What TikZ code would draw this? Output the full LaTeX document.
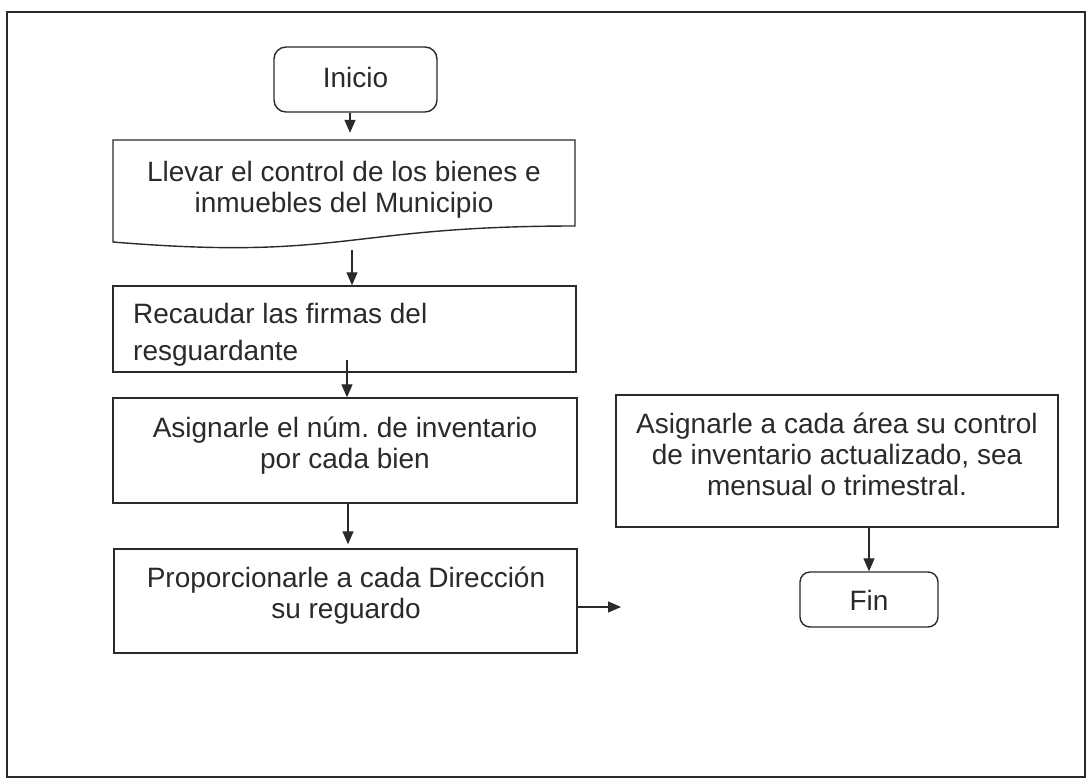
\documentclass[tikz,border=0pt]{standalone}
\usepackage{fontspec}
\setmainfont{Liberation Sans}
\usetikzlibrary{arrows.meta}
\definecolor{ink}{HTML}{2A2A2A}
\newcommand{\topstrutx}{\rule{0pt}{27pt}}
\frenchspacing
\begin{document}
\begin{tikzpicture}[x=1pt,y=-1pt,
  stepbox/.style={draw=ink, line width=1.4pt, inner sep=0pt},
  ghost/.style={draw=none, inner sep=0pt},
  txt/.style={inner sep=0pt, text=ink, font=\fontsize{28pt}{31pt}\selectfont},
  arr/.style={draw=ink, line width=1.3pt, -{Triangle[length=13pt,width=11pt]}},
  frame/.style={draw=ink, line width=1.5pt}]
\useasboundingbox (0,0) rectangle (1087,780);
\fill[white] (0,0) rectangle (1087,780);
\draw[frame] (7,12) rectangle (1085,777);

% Inicio
\node[stepbox, rounded corners=12pt, minimum width=163pt, minimum height=65pt] (ini) at (355.5,79.5) {};
\node[txt, anchor=north] (tini) at (355.5,60) {\topstrutx Inicio};

% Llevar (document shape)
\node[ghost, minimum width=462pt, minimum height=102pt] (lle) at (344,191) {};
\draw[draw=ink, line width=1.4pt, line join=miter] (113,140) -- (575,140) -- (575,226)
  .. controls (344,226) and (344,261) .. (113,242) -- cycle;
\node[txt, anchor=north, align=center] (tlle) at (344,154) {\topstrutx Llevar el control de los bienes e\\inmuebles del Municipio};

% Recaudar
\node[stepbox, minimum width=463pt, minimum height=86pt] (rec) at (344.5,329) {};
\node[txt, anchor=north west, align=left] (trec) at (133,296) {\topstrutx Recaudar las firmas del\\[6pt]resguardante};

% Asignarle numero
\node[stepbox, minimum width=464pt, minimum height=105pt] (asi) at (345,450.5) {};
\node[txt, anchor=north, align=center] (tasi) at (345,410) {\topstrutx Asignarle el núm. de inventario\\por cada bien};

% Proporcionarle
\node[stepbox, minimum width=463pt, minimum height=104pt] (pro) at (345.5,601) {};
\node[txt, anchor=north, align=center] (tpro) at (346,560) {\topstrutx Proporcionarle a cada Dirección\\su reguardo};

% Asignarle a cada area
\node[stepbox, minimum width=442pt, minimum height=132pt] (act) at (837,461) {};
\node[txt, anchor=north, align=center] (tact) at (837,406) {\topstrutx Asignarle a cada área su control\\de inventario actualizado, sea\\mensual o trimestral.};

% Fin
\node[stepbox, rounded corners=10pt, minimum width=138pt, minimum height=55pt] (fin) at (869,599.5) {};
\node[txt, anchor=north] (tfin) at (869,583) {\topstrutx Fin};

% connectors
\coordinate (a2) at (352,250);
\coordinate (a3) at (347,360);
\coordinate (hend) at (621,607);
\draw[arr] ([xshift=-5.5pt]ini.south) -- ([xshift=6pt,yshift=7pt]lle.north);
\draw[arr] (a2) -- (a2 |- rec.north);
\draw[arr] (a3) -- (a3 |- asi.north);
\draw[arr] ([xshift=3pt]asi.south) -- ([xshift=2.5pt,yshift=4pt]pro.north);
\draw[arr] (pro.east |- hend) -- (hend);
\draw[arr] (act.south -| fin.north) -- (fin.north);
\end{tikzpicture}
\end{document}
